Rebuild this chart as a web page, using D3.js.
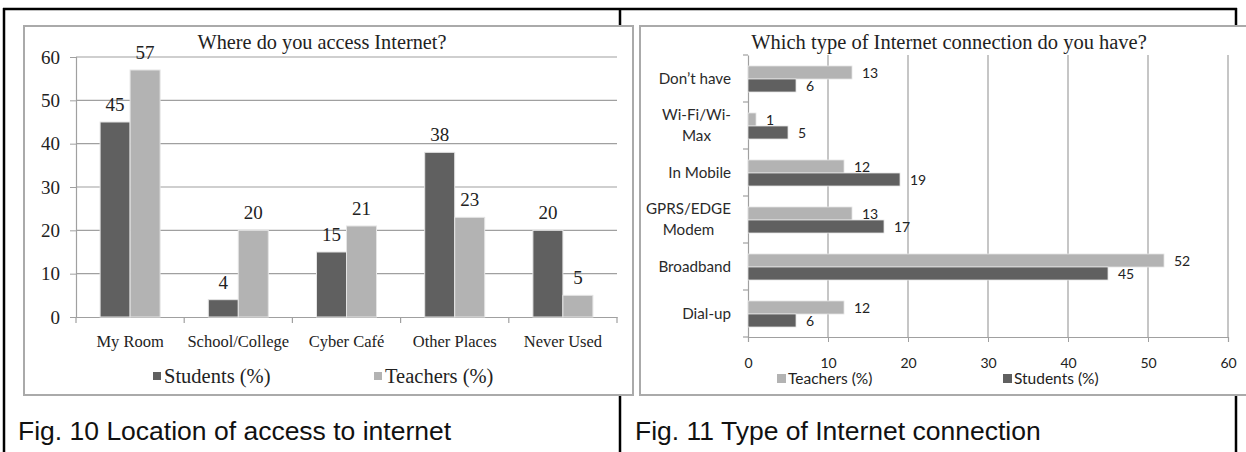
<!DOCTYPE html>
<html>
<head>
<meta charset="utf-8">
<script src="https://d3js.org/d3.v7.min.js"></script>
<style>
  body { margin: 0; background: #fff; }
  svg { display: block; }
</style>
</head>
<body>
<div id="chart"></div>
<script>
// Fig. 10 data
var placeCats = ["My Room", "School/College", "Cyber Café", "Other Places", "Never Used"];
var placeStudents = [45, 4, 15, 38, 20];
var placeTeachers = [57, 20, 21, 23, 5];
var placeTicks = [0, 10, 20, 30, 40, 50, 60];

// Fig. 11 data
var connCats = ["Don’t have", "Wi-Fi/Wi-Max", "In Mobile", "GPRS/EDGE Modem", "Broadband", "Dial-up"];
var connLines = [["Don’t have"], ["Wi-Fi/Wi-", "Max"], ["In Mobile"], ["GPRS/EDGE", "Modem"], ["Broadband"], ["Dial-up"]];
var connTeachers = [13, 1, 12, 13, 52, 12];
var connStudents = [6, 5, 19, 17, 45, 6];
var connTicks = [0, 10, 20, 30, 40, 50, 60];

var dark = "#606060", light = "#b3b3b3";
var serif = "'Liberation Serif', 'Times New Roman', serif";
var sans = "Lato, 'Open Sans', sans-serif";

var svg = d3.select("#chart").append("svg")
    .attr("width", 1246).attr("height", 452);

// table lines behind the charts
var tbl = svg.append("g").attr("stroke", "#000").attr("stroke-width", 2.5);
tbl.append("line").attr("x1", 3).attr("x2", 1237).attr("y1", 9).attr("y2", 9);
tbl.append("line").attr("x1", 4).attr("x2", 4).attr("y1", 8).attr("y2", 452);
tbl.append("line").attr("x1", 620).attr("x2", 620).attr("y1", 8).attr("y2", 452);
tbl.append("line").attr("x1", 1236).attr("x2", 1236).attr("y1", 8).attr("y2", 452);

// ---------- left chart ----------
var left = svg.append("g");
left.append("rect").attr("x", 24).attr("y", 26).attr("width", 609).attr("height", 369)
    .attr("fill", "#fff").attr("stroke", "#aaa").attr("stroke-width", 2);

var x0 = d3.scaleBand().domain(placeCats).range([76, 617]);
var xs = d3.scaleBand().domain(["s", "t"]).range([x0.bandwidth() / 2 - 30, x0.bandwidth() / 2 + 30]);
var y0 = d3.scaleLinear().domain([0, 60]).range([317, 57]);

left.append("text").attr("x", 322).attr("y", 49).attr("text-anchor", "middle")
    .attr("font-family", serif).attr("font-size", 20.3).attr("fill", "#222")
    .text("Where do you access Internet?");

// gridlines
left.append("g").selectAll("line").data(placeTicks.slice(1)).join("line")
    .attr("x1", 76).attr("x2", 617)
    .attr("y1", function(d) { return y0(d); }).attr("y2", function(d) { return y0(d); })
    .attr("stroke", "#a0a0a0").attr("stroke-width", 1.2);

var yAxisL = left.append("g").attr("transform", "translate(76,0)")
    .call(d3.axisLeft(y0).tickValues(placeTicks).tickSize(6).tickPadding(10));
yAxisL.select(".domain").attr("stroke", "#a0a0a0").attr("stroke-width", 1.2);
yAxisL.selectAll(".tick line").attr("stroke", "#a0a0a0");
yAxisL.selectAll("text").attr("font-family", serif).attr("font-size", 19).attr("fill", "#222");

var xAxisL = left.append("g").attr("transform", "translate(0,317)")
    .call(d3.axisBottom(x0).tickSize(0).tickPadding(18));
xAxisL.select(".domain").attr("stroke", "#a0a0a0").attr("stroke-width", 1.2);
xAxisL.selectAll("text").attr("font-family", serif).attr("font-size", 16.5).attr("fill", "#222");
// boundary ticks between categories
left.append("g").selectAll("line").data(placeCats.concat(["end"])).join("line")
    .attr("x1", function(d, i) { return 76 + i * x0.bandwidth(); })
    .attr("x2", function(d, i) { return 76 + i * x0.bandwidth(); })
    .attr("y1", 317).attr("y2", 323).attr("stroke", "#a0a0a0").attr("stroke-width", 1.2);

function barsLeft(vals, key, color) {
  var g = left.append("g");
  g.selectAll("rect").data(vals).join("rect")
    .attr("x", function(d, i) { return x0(placeCats[i]) + xs(key); })
    .attr("width", xs.bandwidth())
    .attr("y", function(d) { return y0(d); })
    .attr("height", function(d) { return 317 - y0(d); })
    .attr("fill", color).attr("stroke", "#e4e4e4").attr("stroke-width", 1);
  g.selectAll("text").data(vals).join("text")
    .attr("x", function(d, i) { return x0(placeCats[i]) + xs(key) + xs.bandwidth() / 2; })
    .attr("y", function(d) { return y0(d) - 11; })
    .attr("text-anchor", "middle")
    .attr("font-family", serif).attr("font-size", 19).attr("fill", "#222")
    .text(function(d) { return d; });
}
barsLeft(placeStudents, "s", dark);
barsLeft(placeTeachers, "t", light);

var legL = [{ name: "Students (%)", c: dark, x: 153 }, { name: "Teachers (%)", c: light, x: 374 }];
var lg = left.append("g").selectAll("g").data(legL).join("g")
    .attr("transform", function(d) { return "translate(" + d.x + ",372)"; });
lg.append("rect").attr("width", 8).attr("height", 8).attr("fill", function(d) { return d.c; });
lg.append("text").attr("x", 11).attr("y", 11).attr("font-family", serif).attr("font-size", 20.5)
    .attr("fill", "#222").text(function(d) { return d.name; });

// ---------- right chart ----------
var right = svg.append("g");
right.append("rect").attr("x", 640).attr("y", 26).attr("width", 620).attr("height", 369)
    .attr("fill", "#fff").attr("stroke", "#aaa").attr("stroke-width", 2);

var x1 = d3.scaleLinear().domain([0, 60]).range([748, 1228]);
var y1 = d3.scaleBand().domain(connCats).range([55, 337]);
var ys = d3.scaleBand().domain(["t", "s"]).range([y1.bandwidth() / 2 - 12.5, y1.bandwidth() / 2 + 13.5]);

right.append("text").attr("x", 949).attr("y", 49).attr("text-anchor", "middle")
    .attr("font-family", serif).attr("font-size", 20.5).attr("fill", "#222")
    .text("Which type of Internet connection do you have?");

right.append("g").selectAll("line").data(connTicks.slice(1)).join("line")
    .attr("x1", function(d) { return x1(d); }).attr("x2", function(d) { return x1(d); })
    .attr("y1", 55).attr("y2", 337)
    .attr("stroke", "#a0a0a0").attr("stroke-width", 1.2);

var xAxisR = right.append("g").attr("transform", "translate(0,337)")
    .call(d3.axisBottom(x1).tickValues(connTicks).tickSize(5).tickPadding(16));
xAxisR.select(".domain").attr("stroke", "#a0a0a0").attr("stroke-width", 1.2);
xAxisR.selectAll(".tick line").attr("stroke", "#a0a0a0");
xAxisR.selectAll("text").attr("font-family", sans).attr("font-size", 14).attr("fill", "#222");

var yAxisR = right.append("g").attr("transform", "translate(748,0)")
    .call(d3.axisLeft(y1).tickSize(0).tickFormat(""));
yAxisR.select(".domain").attr("stroke", "#a0a0a0").attr("stroke-width", 1.2);
right.append("g").selectAll("line").data(connCats.concat(["end"])).join("line")
    .attr("x1", 743).attr("x2", 748)
    .attr("y1", function(d, i) { return 55 + i * y1.bandwidth(); })
    .attr("y2", function(d, i) { return 55 + i * y1.bandwidth(); })
    .attr("stroke", "#a0a0a0").attr("stroke-width", 1.2);

// category labels (wrapped ones centred in their block)
connCats.forEach(function(c, i) {
  var lines = connLines[i];
  var t = right.append("text").attr("font-family", sans).attr("font-size", 15.2).attr("fill", "#2a2a2a");
  var cy = y1(c) + y1.bandwidth() / 2;
  var n = lines.length;
  lines.forEach(function(l, j) {
    t.append("tspan").attr("y", cy + 5 + (j - (n - 1) / 2) * 21).text(l);
  });
  var w = 0;
  t.selectAll("tspan").each(function() { w = Math.max(w, this.getComputedTextLength()); });
  t.selectAll("tspan").attr("x", 731 - w / 2).attr("text-anchor", "middle");
});

function barsRight(vals, key, color) {
  var g = right.append("g");
  g.selectAll("rect").data(vals).join("rect")
    .attr("x", 748)
    .attr("y", function(d, i) { return y1(connCats[i]) + ys(key); })
    .attr("width", function(d) { return x1(d) - 748; })
    .attr("height", ys.bandwidth())
    .attr("fill", color).attr("stroke", "#e4e4e4").attr("stroke-width", 0.8);
  g.selectAll("text").data(vals).join("text")
    .attr("x", function(d) { return x1(d) + 10; })
    .attr("y", function(d, i) { return y1(connCats[i]) + ys(key) + ys.bandwidth() / 2 + 5.5; })
    .attr("font-family", sans).attr("font-size", 14).attr("fill", "#222")
    .text(function(d) { return d; });
}
barsRight(connTeachers, "t", light);
barsRight(connStudents, "s", dark);

var legR = [{ name: "Teachers (%)", c: light, x: 777 }, { name: "Students (%)", c: dark, x: 1003 }];
var rg = right.append("g").selectAll("g").data(legR).join("g")
    .attr("transform", function(d) { return "translate(" + d.x + ",374)"; });
rg.append("rect").attr("width", 9).attr("height", 9).attr("fill", function(d) { return d.c; });
rg.append("text").attr("x", 11).attr("y", 10).attr("font-family", sans).attr("font-size", 15.5)
    .attr("fill", "#222").text(function(d) { return d.name; });

// ---------- captions ----------
svg.append("text").attr("x", 18).attr("y", 440).attr("font-family", "'Liberation Sans', Arial, sans-serif")
    .attr("font-size", 26.5).attr("fill", "#111").text("Fig. 10 Location of access to internet");
svg.append("text").attr("x", 635).attr("y", 440).attr("font-family", "'Liberation Sans', Arial, sans-serif")
    .attr("font-size", 26.5).attr("fill", "#111").text("Fig. 11 Type of Internet connection");
</script>
</body>
</html>
